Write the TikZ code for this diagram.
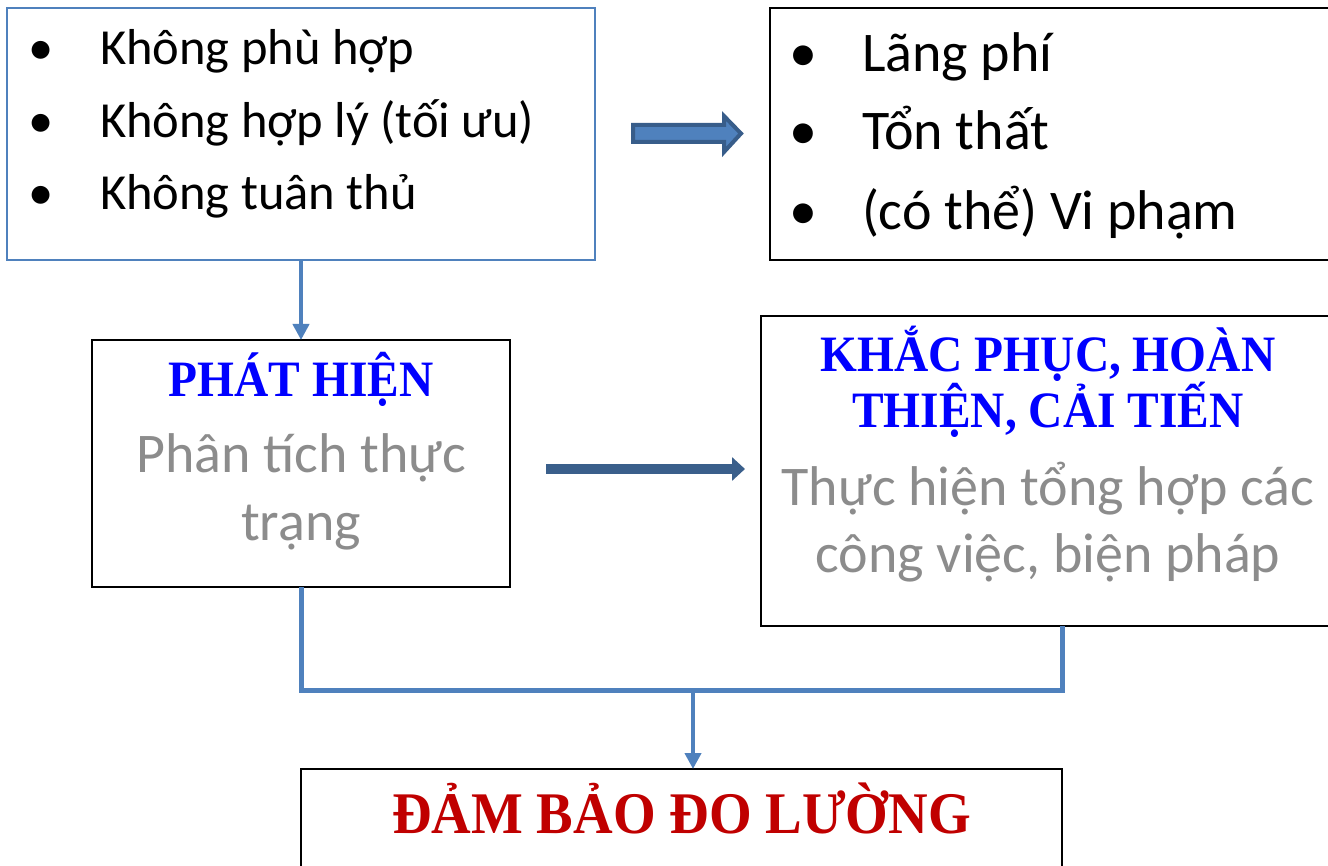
\documentclass[tikz,border=0pt]{standalone}
\usepackage{fontspec}
\setmainfont{Carlito}
\newfontfamily\headfont{Liberation Serif}[FakeStretch=0.93]
\usetikzlibrary{arrows.meta,calc}
\definecolor{lineblue}{HTML}{4F81BD}
\definecolor{darkblue}{HTML}{385D8A}
\definecolor{arrowblue}{HTML}{3A5F8B}
\definecolor{headblue}{HTML}{0000FF}
\definecolor{headred}{HTML}{C00000}
\definecolor{graytext}{HTML}{8C8C8C}
\begin{document}
\begin{tikzpicture}[x=1pt,y=-1pt,
  box/.style={draw=black,line width=2.2pt,inner sep=0pt,outer sep=0pt,anchor=north west},
  txt/.style={inner sep=0pt,outer sep=0pt},
  itemA/.style={txt,anchor=base west,font=\fontsize{50.5}{60}\selectfont},
  itemB/.style={txt,anchor=base west,font=\fontsize{56}{66}\selectfont},
  headtxt/.style={txt,anchor=base,font=\headfont\bfseries\fontsize{51}{60}\selectfont,text=headblue},
  graytxt/.style={txt,anchor=base,font=\fontsize{56}{66}\selectfont,text=graytext},
  conn/.style={draw=lineblue,line width=4.5pt},
  tipA/.style={-{Triangle[length=16pt,width=16pt]}}
]
\useasboundingbox (0,0) rectangle (1328,866);
\fill[white] (0,0) rectangle (1328,866);

% boxes
\node[box,draw=lineblue,line width=1.8pt,minimum width=588pt,minimum height=252pt] (boxA) at (7,8) {};
\node[box,minimum width=600pt,minimum height=252pt] (boxB) at (770,8) {};
\node[box,minimum width=418pt,minimum height=247pt] (boxC) at (92,340) {};
\node[box,minimum width=602pt,minimum height=310pt] (boxD) at (761,316) {};
\node[box,minimum width=761pt,minimum height=140pt] (boxE) at (301,769) {};

% box A text
\node[itemA] (a1b) at (28,65) {•};
\node[itemA] (a1) at (100,65) {Không phù hợp};
\node[itemA] (a2b) at (28,138) {•};
\node[itemA] (a2) at (100,138) {Không hợp lý (tối ưu)};
\node[itemA] (a3b) at (28,210) {•};
\node[itemA] (a3) at (100,210) {Không tuân thủ};

% box B text
\node[itemB] (b1b) at (789,72) {•};
\node[itemB] (b1) at (862,72) {Lãng phí};
\node[itemB] (b2b) at (789,150) {•};
\node[itemB] (b2) at (862,150) {Tổn thất};
\node[itemB] (b3b) at (789,230) {•};
\node[itemB] (b3) at (862,230) {(có thể) Vi phạm};

% box C text
\node[headtxt] (c1) at (301,397) {PHÁT HIỆN};
\node[graytxt] (c2) at (301,472) {Phân tích thực};
\node[graytxt] (c3) at (301,540) {trạng};

% box D text
\node[headtxt] (d1) at (1048,372) {KHẮC PHỤC, HOÀN};
\node[headtxt] (d2) at (1048,428) {THIỆN, CẢI TIẾN};
\node[graytxt] (d3) at (1048,505) {Thực hiện tổng hợp các};
\node[graytxt] (d4) at (1048,572) {công việc, biện pháp};

% box E text
\node[txt,anchor=base,font=\headfont\bfseries\fontsize{59}{70}\selectfont,text=headred] (e1) at (681.5,833) {ĐẢM BẢO ĐO LƯỜNG};

% block arrow A -> B
\path[fill=lineblue,draw=darkblue,line width=4pt,line join=miter]
  (633,125) -- (724,125) -- (724,116) -- (741,133.5) -- (724,152) -- (724,142) -- (633,142) -- cycle;

% arrow C -> D
\coordinate (cd1) at (546,469);
\coordinate (cd2) at (745,469);
\draw[arrowblue,line width=10pt,-{Triangle[length=13pt,width=23pt]}] (cd1) -- (cd2);

% A -> C
\draw[conn,tipA] (boxA.south) -- (boxC.north);

% C, D -> E
\coordinate (j) at (693,690);
\draw[conn,line width=5pt] (boxC.south) -- (boxC.south |- j) -- (boxD.south |- j) -- (boxD.south);
\draw[conn,tipA] (j) -- (j |- boxE.north);
\end{tikzpicture}
\end{document}
